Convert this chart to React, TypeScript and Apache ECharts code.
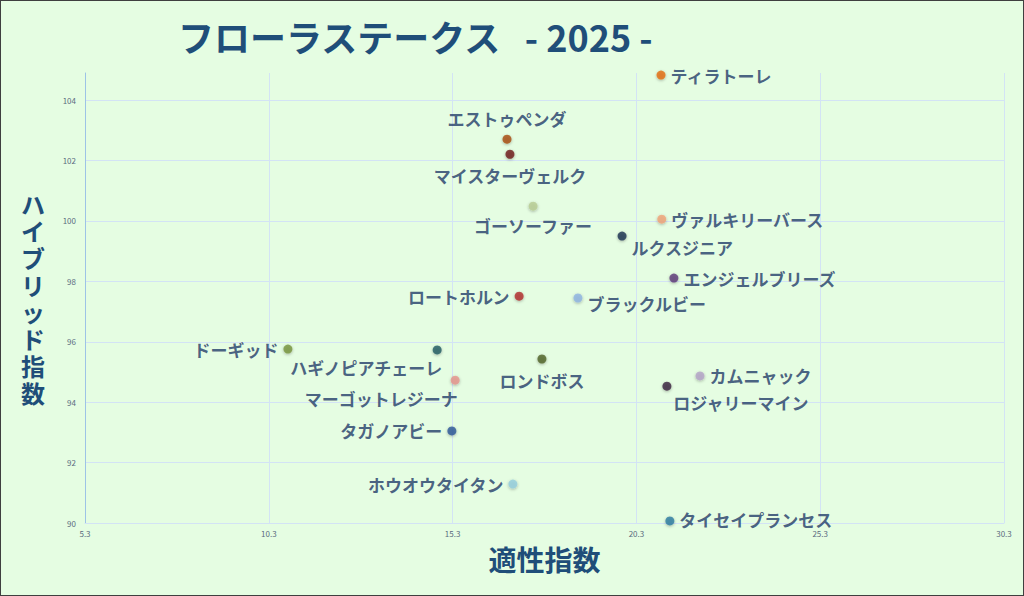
import { useEffect, useRef } from "react";
import * as echarts from "echarts";

// horses, 適性指数 (x) and ハイブリッド指数 (y)
const horses = [
  "ティラトーレ", "エストゥペンダ", "マイスターヴェルク", "ゴーソーファー",
  "ヴァルキリーバース", "ルクスジニア", "エンジェルブリーズ", "ロートホルン",
  "ブラックルビー", "ドーギッド", "ハギノピアチェーレ", "ロンドボス",
  "マーゴットレジーナ", "カムニャック", "ロジャリーマイン", "タガノアビー",
  "ホウオウタイタン", "タイセイプランセス",
];
const tekisei = [
  20.97, 16.78, 16.86, 17.49, 20.99, 19.91, 21.32, 17.11, 18.71,
  10.82, 14.88, 17.73, 15.37, 22.03, 21.13, 15.28, 16.94, 21.21,
];
const hybrid = [
  104.83, 102.71, 102.21, 100.49, 100.06, 99.5, 98.11, 97.51, 97.45,
  95.76, 95.73, 95.43, 94.73, 94.87, 94.53, 93.05, 91.29, 90.07,
];
const xTicks = { min: 5.3, max: 30.3, step: 5 };
const yTicks = { min: 90, max: 104.9, step: 2 };

const dotColors = [
  "#E46C0A", "#A84A0A", "#6E1A1A", "#B8CC94", "#F0A478", "#1B2F4F",
  "#5C3A78", "#B02A2A", "#8DB3E2", "#77933C", "#215A63", "#4F6228",
  "#E6948C", "#B3A2C7", "#3A1F3D", "#2D5597", "#93CDDD", "#2B7BA0",
];

// where each name sits round its dot
const labelPlace: { position: string; offset?: number[]; distance?: number }[] = [
  { position: "right" },
  { position: "top", distance: 8 },
  { position: "bottom", distance: 8 },
  { position: "bottom", distance: 6 },
  { position: "right" },
  { position: "right", offset: [0, 11] },
  { position: "right" },
  { position: "left" },
  { position: "right", offset: [0, 5] },
  { position: "left" },
  { position: "bottom", offset: [-71, 0] },
  { position: "bottom", distance: 8 },
  { position: "bottom", offset: [-74, 0] },
  { position: "right" },
  { position: "bottom", offset: [74, -2] },
  { position: "left" },
  { position: "left" },
  { position: "right", offset: [0, -1] },
];

const FONT = "'Noto Sans CJK JP', 'Noto Sans', sans-serif";
const NAVY = "#1F3A68";

export default function App(): JSX.Element {
  const chartRef = useRef<HTMLDivElement>(null);
  useEffect(() => {
    const myChart = echarts.init(chartRef.current, null, { renderer: "svg" });
    const data = horses.map((name, i) => ({
      name,
      value: [tekisei[i], hybrid[i]],
      itemStyle: { color: dotColors[i] },
      label: labelPlace[i],
    }));
    const option = {
      animation: false,
      backgroundColor: "#E5FDE2",
      textStyle: { fontFamily: FONT },
      title: {
        text: "フローラステークス   - 2025 -",
        left: 172,
        top: 12,
        textStyle: { fontSize: 36, fontWeight: "bold", color: "#1F4E79", fontFamily: FONT },
      },
      grid: { left: 84, right: 19, top: 72, bottom: 72 },
      xAxis: {
        type: "value",
        min: xTicks.min,
        max: xTicks.max,
        interval: xTicks.step,
        name: "適性指数",
        nameLocation: "middle",
        nameGap: 22,
        nameTextStyle: { fontSize: 28, fontWeight: "bold", color: "#1F4E79", fontFamily: FONT },
        axisLine: { lineStyle: { color: "#D3E3F5" } },
        axisTick: { show: false },
        axisLabel: { fontSize: 8, color: "#5A6B7F", margin: 6 },
        splitLine: { lineStyle: { color: "#D3E3F5" } },
      },
      yAxis: {
        type: "value",
        min: yTicks.min,
        max: yTicks.max,
        interval: yTicks.step,
        axisLine: { show: true, lineStyle: { color: "#9DC3E6" } },
        axisTick: { show: false },
        axisLabel: { fontSize: 8, color: "#5A6B7F", margin: 9, showMaxLabel: false },
        splitLine: { showMaxLine: false, lineStyle: { color: "#D3E3F5" } },
      },
      graphic: [
        {
          type: "text",
          x: 32,
          y: 297,
          style: {
            text: "ハ\nイ\nブ\nリ\nッ\nド\n指\n数",
            fontSize: 24,
            fontWeight: "bold",
            lineHeight: 27,
            fill: "#1F4E79",
            fontFamily: FONT,
            align: "center",
            verticalAlign: "middle",
          },
        },
      ],
      series: [
        {
          type: "scatter",
          symbolSize: 9,
          data,
          itemStyle: {
            shadowBlur: 3,
            shadowColor: "rgba(0,0,0,0.35)",
            shadowOffsetY: 1,
          },
          label: {
            show: true,
            formatter: "{b}",
            fontSize: 17,
            fontWeight: "bold",
            color: NAVY,
            fontFamily: FONT,
          },
        },
      ],
    };
    myChart.setOption(option);
    return () => {
      myChart.dispose();
    };
  }, []);

  return (
    <div
      style={{
        position: "fixed",
        left: 0,
        top: 0,
        width: 1024,
        height: 596,
        boxSizing: "border-box",
        border: "1px solid #3F3F3F",
      }}
    >
      <div ref={chartRef} style={{ width: "100%", height: "100%" }}></div>
    </div>
  );
}
